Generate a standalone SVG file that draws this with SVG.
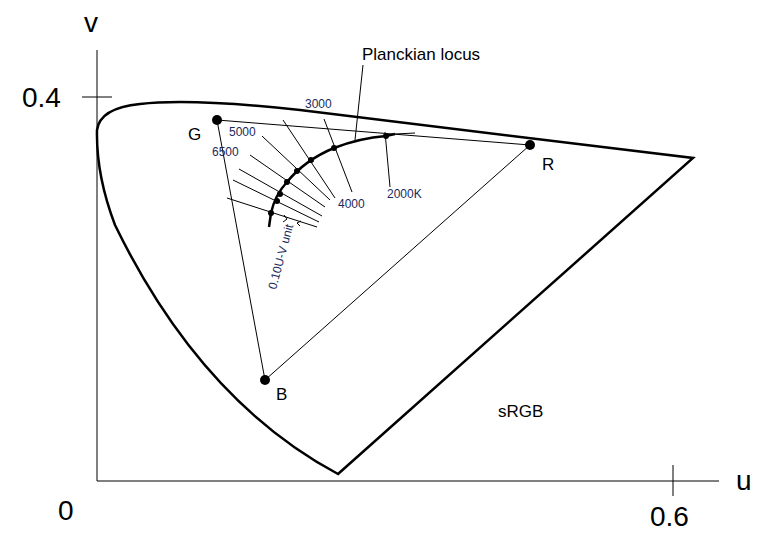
<svg xmlns="http://www.w3.org/2000/svg" width="771" height="541" viewBox="0 0 771 541">
<style>
.ax{stroke:#000;stroke-width:1;fill:none}
.th{stroke:#000;stroke-width:1;fill:none}
.bold{stroke:#000;stroke-width:2.5;fill:none}
.big{font-family:"Liberation Sans",Arial,sans-serif;font-size:28px;fill:#000}
.lbl{font-family:"Liberation Sans",Arial,sans-serif;font-size:17px;fill:#000}
.sm{font-family:"Liberation Sans",Arial,sans-serif;font-size:12px;fill:#1a2a5a}
</style>
<rect width="771" height="541" fill="#fff"/>
<g id="axes">
<line class="ax" x1="97" y1="50" x2="97" y2="481"/>
<line class="ax" x1="82" y1="97" x2="112" y2="97"/>
<line class="ax" x1="97" y1="481" x2="719" y2="481"/>
<line class="ax" x1="673" y1="465" x2="673" y2="496"/>
<text class="big" x="84" y="32">v</text>
<text class="big" x="22" y="107">0.4</text>
<text class="big" x="736" y="490">u</text>
<text class="big" x="58" y="520">0</text>
<text class="big" x="650" y="526">0.6</text>
</g>
<g id="spectral-locus">
<path class="bold" d="M338,474 L693,158 L300,110 Q190,98 140,104 Q100,108 97,130 Q96,175 115,225 Q200,400 338,474 Z"/>
</g>
<g id="gamut">
<polygon class="th" points="217,120 530,145 265,380"/>
</g>
<g id="primaries">
<circle cx="217" cy="120" r="5"/><text class="lbl" x="188" y="140">G</text>
<circle cx="530" cy="145" r="5"/><text class="lbl" x="542" y="170">R</text>
<circle cx="265" cy="380" r="5"/><text class="lbl" x="276" y="400">B</text>
<text class="lbl" x="498" y="417">sRGB</text>
</g>
<g id="planckian-locus">
<path class="bold" d="M269,227 L271,213 Q275,195 287,182 Q305,160 334,148 Q360,138 386,136 L395,134"/>
<line class="th" x1="395" y1="134" x2="415" y2="133" stroke-width="2"/>
<g fill="#000">
<circle cx="271" cy="213" r="3"/><circle cx="277" cy="201" r="3"/><circle cx="280" cy="194" r="3"/>
<circle cx="287" cy="182" r="3"/><circle cx="297" cy="171" r="3"/><circle cx="311" cy="160" r="3"/>
<circle cx="334" cy="148" r="3"/><circle cx="386" cy="136" r="3"/>
</g>
</g>
<g id="isotherms">
<line class="th" x1="385" y1="132" x2="390" y2="187"/>
<line class="th" x1="324" y1="119" x2="352" y2="192"/>
<line class="th" x1="283" y1="120" x2="335" y2="198"/>
<line class="th" x1="262" y1="136" x2="330" y2="200"/>
<line class="th" x1="250" y1="155" x2="325" y2="207"/>
<line class="th" x1="239" y1="169" x2="322" y2="216"/>
<line class="th" x1="233" y1="180" x2="319" y2="222"/>
<line class="th" x1="227" y1="198" x2="317" y2="227"/>
<line class="th" x1="363" y1="65" x2="355" y2="140"/>
<path class="th" d="M283,222 l4,-3 M287,219 l-3,-4 M300,226 l-3,-3 M297,223 l4,-2"/>
</g>
<g id="labels">
<text class="lbl" x="362" y="60">Planckian locus</text>
<text class="sm" x="305" y="108">3000</text>
<text class="sm" x="229" y="136">5000</text>
<text class="sm" x="212" y="156">6500</text>
<text class="sm" x="338" y="208">4000</text>
<text class="sm" x="387" y="198">2000K</text>
<text class="sm" font-size="10" transform="translate(276,290) rotate(-75)">0.10U-V unit</text>
</g>
</svg>
